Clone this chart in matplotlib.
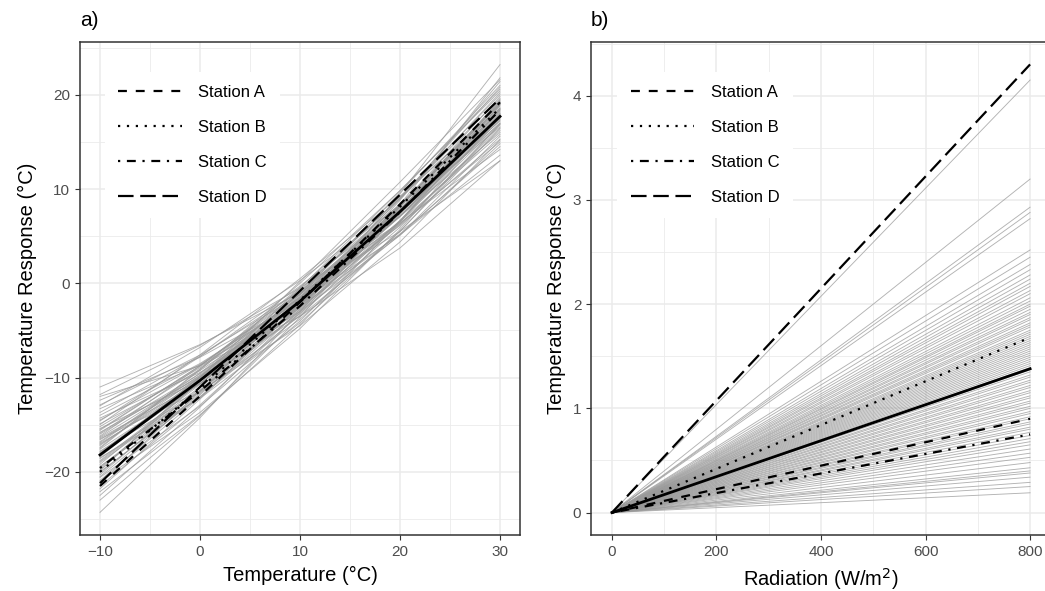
import matplotlib
matplotlib.use("Agg")
import matplotlib.pyplot as plt
from matplotlib.ticker import MultipleLocator

plt.rcParams['font.family'] = ['Liberation Sans', 'DejaVu Sans']

# panel a: temperature response curves, read at these temperatures
temp_x = [-10, 0, 10, 20, 30]
temp_curves = [
    [-11.0, -6.50, -1.0, 5.50, 13.0],
    [-11.8, -6.58, -0.5, 6.43, 14.2],
    [-12.4, -7.85, -2.0, 5.15, 13.6],
    [-12.9, -7.61, -1.2, 6.34, 15.0],
    [-13.3, -8.68, -2.5, 5.23, 14.5],
    [-13.7, -7.74, -0.8, 7.11, 16.0],
    [-14.0, -8.51, -1.8, 6.14, 15.3],
    [-14.3, -9.46, -3.0, 5.09, 14.8],
    [-14.6, -7.78, -0.3, 7.83, 16.6],
    [-14.9, -9.26, -2.2, 6.29, 16.2],
    [-15.2, -8.95, -1.5, 7.15, 17.0],
    [-15.4, -10.35, -3.5, 5.15, 15.6],
    [-15.6, -8.73, -0.9, 7.88, 17.6],
    [-15.8, -9.94, -2.6, 6.21, 16.5],
    [-16.0, -9.59, -1.9, 7.06, 17.3],
    [-16.2, -8.80, -0.6, 8.40, 18.2],
    [-16.4, -10.65, -3.2, 5.95, 16.8],
    [-16.6, -10.03, -2.1, 7.18, 17.8],
    [-16.8, -9.53, -1.2, 8.18, 18.6],
    [-17.0, -10.65, -2.8, 6.55, 17.4],
    [-17.2, -9.90, -1.6, 7.70, 18.0],
    [-17.4, -9.20, -0.4, 9.00, 19.0],
    [-17.6, -10.64, -2.4, 7.11, 17.9],
    [-17.8, -11.58, -3.8, 5.53, 16.4],
    [-18.0, -10.15, -1.4, 8.25, 18.8],
    [-18.2, -10.61, -2.0, 7.64, 18.3],
    [-18.4, -9.95, -0.8, 9.05, 19.6],
    [-18.6, -11.43, -3.0, 6.68, 17.6],
    [-18.8, -10.73, -1.7, 8.28, 19.2],
    [-19.0, -11.39, -2.6, 7.36, 18.5],
    [-19.2, -10.45, -1.0, 9.15, 20.0],
    [-19.4, -12.08, -3.4, 6.63, 18.0],
    [-19.6, -11.43, -2.2, 8.08, 19.4],
    [-19.8, -10.38, -0.5, 9.83, 20.6],
    [-20.0, -12.04, -2.9, 7.41, 18.9],
    [-20.3, -11.34, -1.6, 8.91, 20.2],
    [-20.6, -13.03, -4.0, 6.48, 18.4],
    [-20.9, -12.11, -2.4, 8.24, 19.8],
    [-21.2, -11.48, -1.2, 9.63, 21.0],
    [-21.5, -12.90, -3.2, 7.60, 19.5],
    [-21.8, -12.28, -2.0, 9.03, 20.8],
    [-22.1, -13.96, -4.4, 6.59, 19.0],
    [-22.5, -13.14, -2.7, 8.81, 21.4],
    [-23.0, -14.05, -3.6, 8.35, 21.8],
    [-24.3, -14.26, -3.0, 9.49, 23.2],
    [-12.0, -8.75, -3.5, 3.75, 13.0],
    [-13.0, -6.80, 0.3, 8.30, 17.2],
    [-15.0, -7.58, 0.5, 9.23, 18.6],
    [-16.5, -11.46, -4.5, 4.39, 15.2],
    [-17.5, -9.11, 0.0, 9.84, 20.4],
    [-18.5, -12.20, -4.2, 5.50, 16.9],
    [-19.9, -10.01, 0.2, 10.74, 21.6],
    [-21.0, -13.70, -4.8, 5.70, 17.8],
    [-15.5, -8.76, -1.1, 7.49, 17.0],
    [-17.1, -10.28, -2.2, 7.13, 17.7],
    [-18.1, -9.93, -1.1, 8.38, 18.5],
    [-16.9, -9.73, -1.5, 7.78, 18.1],
    [-14.5, -8.61, -1.6, 6.54, 15.8],
    [-19.5, -11.11, -1.9, 8.14, 19.0],
    [-20.5, -11.83, -2.3, 8.08, 19.3],
    [-17.9, -10.40, -1.8, 7.90, 18.4],
    [-16.3, -9.80, -2.3, 6.60, 16.9],
    [-18.9, -11.00, -2.0, 8.10, 19.1],
    [-15.9, -9.10, -1.4, 7.40, 17.5],
    [-20.1, -11.70, -2.5, 7.80, 19.2],
]

# panel b: radiation response, values at 0 and 800 W/m2
rad_x = [0, 800]
rad_hi = [4.15, 3.20, 2.93, 2.88, 2.82, 2.52, 2.45, 2.38, 2.33, 2.28,
          2.24, 2.20, 2.17, 2.13, 2.10, 2.06, 2.03, 2.00, 1.98, 1.95,
          1.92, 1.90, 1.87, 1.85, 1.82, 1.80, 1.78, 1.75, 1.73, 1.71,
          1.69, 1.67, 1.65, 1.63, 1.61, 1.59, 1.57, 1.55, 1.53, 1.51,
          1.49, 1.47, 1.45, 1.43, 1.41, 1.39, 1.37, 1.35, 1.32, 1.30,
          1.27, 1.25, 1.22, 1.20, 1.17, 1.15, 1.12, 1.10, 1.07, 1.05,
          1.02, 1.00, 0.97, 0.95, 0.92, 0.90, 0.87, 0.85, 0.82, 0.80,
          0.77, 0.74, 0.71, 0.68, 0.65, 0.61, 0.57, 0.53, 0.48, 0.43,
          0.40, 0.38, 0.34, 0.29, 0.25, 0.19]

stations = ["Station A", "Station B", "Station C", "Station D"]
station_temp = [
    [-21.5, -11.96, -2.0, 8.39, 19.2],
    [-20.0, -11.18, -1.8, 8.13, 18.6],
    [-19.6, -11.45, -2.4, 7.55, 18.4],
    [-21.2, -11.00, -0.8, 9.40, 19.6],
]
station_rad = [0.90, 1.68, 0.75, 4.30]
mean_temp = [-18.2, -10.3, -1.9, 7.6, 17.7]
mean_rad = 1.38

dash_styles = [(0, (4, 4)), (0, (1, 3)), (0, (1, 3, 4, 3)), (0, (7, 3))]


def style_axes(ax, xmaj, xmin, ymaj, ymin):
    ax.xaxis.set_major_locator(MultipleLocator(xmaj))
    ax.xaxis.set_minor_locator(MultipleLocator(xmin))
    ax.yaxis.set_major_locator(MultipleLocator(ymaj))
    ax.yaxis.set_minor_locator(MultipleLocator(ymin))
    ax.grid(which="major", color="#EBEBEB", lw=1.1)
    ax.grid(which="minor", color="#EBEBEB", lw=0.6)
    ax.set_axisbelow(True)
    for s in ax.spines.values():
        s.set_color("#333333")
        s.set_linewidth(1.1)
    ax.tick_params(which="major", length=3.5, color="#333333", labelsize=11,
                   labelcolor="#4D4D4D")
    ax.tick_params(which="minor", length=0)


fig = plt.figure(figsize=(10.45, 5.91), dpi=100)
ax1 = fig.add_axes([80 / 1045, 1 - 535 / 591, 440 / 1045, 493 / 591])
ax2 = fig.add_axes([591 / 1045, 1 - 535 / 591, 460 / 1045, 493 / 591])

for curve in temp_curves:
    ax1.plot(temp_x, curve, color="#999999", lw=0.65, alpha=0.75)
ax1.plot(temp_x, mean_temp, color="black", lw=2.0)
for name, vals, ls in zip(stations, station_temp, dash_styles):
    ax1.plot(temp_x, vals, color="black", lw=1.6, linestyle=ls, label=name)

for hi in rad_hi:
    ax2.plot(rad_x, [0, hi], color="#999999", lw=0.65, alpha=0.75)
ax2.plot(rad_x, [0, mean_rad], color="black", lw=2.0)
for name, val, ls in zip(stations, station_rad, dash_styles):
    ax2.plot(rad_x, [0, val], color="black", lw=1.6, linestyle=ls, label=name)

ax1.set_xlim(-12, 32)
ax1.set_ylim(-26.7, 25.6)
ax2.set_xlim(-40, 840)
ax2.set_ylim(-0.215, 4.515)
style_axes(ax1, 10, 5, 10, 5)
style_axes(ax2, 200, 100, 1, 0.5)

ax1.set_xlabel("Temperature (°C)", fontsize=14.5, labelpad=5)
ax1.set_ylabel("Temperature Response (°C)", fontsize=14.5, labelpad=5)
ax2.set_xlabel("Radiation (W/m$^2$)", fontsize=14.5, labelpad=5)
ax2.set_ylabel("Temperature Response (°C)", fontsize=14.5, labelpad=5)

for ax, tag in [(ax1, "a)"), (ax2, "b)")]:
    leg = ax.legend(loc="upper left", bbox_to_anchor=(0.057, 0.94), fontsize=12,
                    handlelength=3.8, labelspacing=1.2, handletextpad=1.0,
                    frameon=True, fancybox=False, borderpad=0.8,
                    borderaxespad=0)
    leg.get_frame().set_facecolor("white")
    leg.get_frame().set_edgecolor("none")
    leg.get_frame().set_alpha(1)
    ax.text(0.0, 1.025, tag, transform=ax.transAxes, fontsize=15, ha="left",
            va="bottom")

fig.savefig("out.png", dpi=100)
